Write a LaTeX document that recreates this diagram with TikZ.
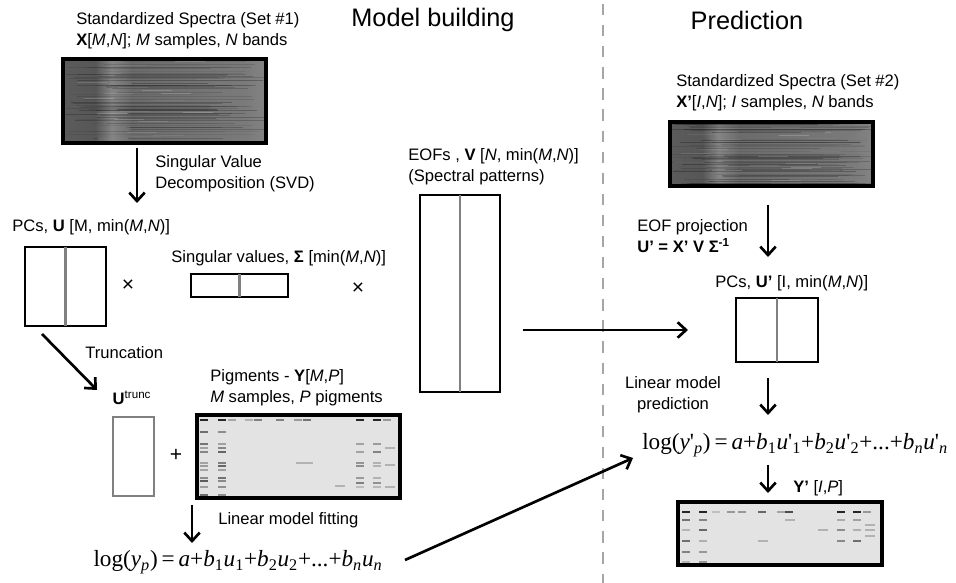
\documentclass[tikz,border=0pt]{standalone}
\usepackage{fontspec}
\setmainfont{Liberation Sans}
\newfontfamily\eqfont{Liberation Serif}
\usetikzlibrary{arrows.meta}
\pgfdeclarehorizontalshading{spectra}{100bp}{color(0bp)=(black!80); color(3bp)=(black!62); color(11bp)=(black!45); color(15bp)=(black!62); color(33bp)=(black!66); color(37bp)=(black!48); color(42bp)=(black!58); color(70bp)=(black!52); color(84bp)=(black!42); color(92bp)=(black!18); color(97bp)=(black!32); color(100bp)=(black!70)}

\begin{document}
\begin{tikzpicture}[x=0.025cm, y=-0.025cm,
            txt/.style={inner sep=0, align=left, font=\fontsize{11.8}{15}\selectfont},
            head/.style={inner sep=0, font=\fontsize{18}{22}\selectfont},
            eqn/.style={inner sep=0, font=\eqfont\fontsize{16.5}{20}\selectfont},
            op/.style={inner sep=0, font=\fontsize{15}{18}\selectfont},
            box/.style={draw, line width=1.9pt, inner sep=0},
            mid/.style={draw, gray, line width=1.5pt, shorten <=1pt, shorten >=1pt},
            arr/.style={line width=1.9pt, -{Straight Barb[length=6pt,width=11pt]}},
            tick/.style={line width=1.2pt}]
            \useasboundingbox (0,0) rectangle (956,583);

            \draw [gray!70, line width=1.4pt, dash pattern=on 8 off 7] (603,4) -- (603,583);
            \node [head] (build) at (433,20) {Model building};
            \node [head] (pred) at (747,20) {Prediction};

            \shade [shading=spectra] (63,59) rectangle (266,143);
            \shade [shading=spectra] (670,122) rectangle (873,186);
            \pgfmathsetseed{11}
            \foreach \i in {1,...,60} {
                \pgfmathsetmacro{\yy}{61+80*rnd}
                \pgfmathsetmacro{\xa}{63+70*rnd}
                \pgfmathsetmacro{\xb}{266-60*rnd}
                \pgfmathsetmacro{\op}{0.05+0.2*rnd}
                \draw [black, opacity=\op, line width=0.6pt] (\xa,\yy) -- (\xb,\yy);
            }
            \foreach \i in {1,...,20} {
                \pgfmathsetmacro{\yy}{61+80*rnd}
                \pgfmathsetmacro{\xa}{63+150*rnd}
                \pgfmathsetmacro{\op}{0.05+0.15*rnd}
                \draw [white, opacity=\op, line width=0.6pt] (\xa,\yy) -- ++(30,0);
            }
            \foreach \i in {1,...,60} {
                \pgfmathsetmacro{\yy}{124+60*rnd}
                \pgfmathsetmacro{\xa}{670+70*rnd}
                \pgfmathsetmacro{\xb}{873-60*rnd}
                \pgfmathsetmacro{\op}{0.05+0.2*rnd}
                \draw [black, opacity=\op, line width=0.6pt] (\xa,\yy) -- (\xb,\yy);
            }
            \foreach \i in {1,...,20} {
                \pgfmathsetmacro{\yy}{124+60*rnd}
                \pgfmathsetmacro{\xa}{670+150*rnd}
                \pgfmathsetmacro{\op}{0.05+0.15*rnd}
                \draw [white, opacity=\op, line width=0.6pt] (\xa,\yy) -- ++(30,0);
            }

            \fill [black!11] (197,415) rectangle (400,498);
            \fill [black!11] (678,502) rectangle (882,565);
            \foreach \x/\c in {200/85,218/85,228/35,245/30,254/50,276/50,294/40,303/55,356/85,373/85,383/40}
                \draw [tick, black!\c] (\x,420) -- ++(8,0);
            \foreach \x in {200,218} \foreach \y in {432,444,448,452,463,466,470,478,481,487,495} {
                \pgfmathsetmacro{\op}{0.2+0.4*rnd}
                \draw [tick, black, opacity=\op] (\x,\y) -- ++(8,0);
            }
            \foreach \x in {356,373} \foreach \y in {444,452,463,466,478,483,487} {
                \pgfmathsetmacro{\op}{0.15+0.3*rnd}
                \draw [tick, black, opacity=\op] (\x,\y) -- ++(8,0);
            }
            \foreach \x/\y in {385/448,385/465,385/487,296/463,303/463,335/486}
                \draw [tick, black!30] (\x,\y) -- ++(10,0);
            \foreach \x/\c in {682/85,699/85,712/25,727/40,738/40,758/60,777/35,785/70,837/85,853/85,863/40}
                \draw [tick, black!\c] (\x,512) -- ++(8,0);
            \foreach \x in {682,699} \foreach \y in {520,530,541,552,562} {
                \pgfmathsetmacro{\op}{0.2+0.4*rnd}
                \draw [tick, black, opacity=\op] (\x,\y) -- ++(8,0);
            }
            \foreach \x in {837,853} \foreach \y in {520,530,541} {
                \pgfmathsetmacro{\op}{0.2+0.35*rnd}
                \draw [tick, black, opacity=\op] (\x,\y) -- ++(8,0);
            }
            \foreach \x/\y in {865/525,865/530,865/536,785/520,818/530,758/541}
                \draw [tick, black!30] (\x,\y) -- ++(10,0);

            \node [box, line width=2.5pt, minimum width=5.075cm, minimum height=2.1cm] (spec1) at (164.5,101) {};
            \node [box, minimum width=2.025cm, minimum height=1.975cm] (U) at (65.5,286.5) {};
            \node [box, minimum width=2.425cm, minimum height=0.575cm] (S) at (239.5,285.5) {};
            \node [box, minimum width=2cm, minimum height=4.925cm] (V) at (460,293.5) {};
            \node [box, draw=gray, minimum width=1.025cm, minimum height=1.975cm] (Utr) at (133.5,456.5) {};
            \node [box, line width=2.5pt, minimum width=5.075cm, minimum height=2.075cm] (pig1) at (298.5,456.5) {};
            \node [box, line width=2.5pt, minimum width=5.075cm, minimum height=1.6cm] (spec2) at (771.5,154) {};
            \node [box, minimum width=2.05cm, minimum height=1.6cm] (U2) at (777,330) {};
            \node [box, line width=2.5pt, minimum width=5.1cm, minimum height=1.575cm] (pig2) at (780,533.5) {};
            \path [mid] (U.north) edge (U.south);
            \path [mid] (S.north) edge (S.south);
            \path [mid] (V.north) edge (V.south);
            \path [mid] (U2.north) edge (U2.south);

            \node [txt, anchor=west] (spec1lbl) at (76,30.5) {Standardized Spectra (Set \#1)\\\textbf{X}[\textit{M},\textit{N}]; \textit{M} samples, \textit{N} bands};
            \node [txt, anchor=west] (svd) at (155,174) {Singular Value\\Decomposition (SVD)};
            \node [txt, anchor=west] (Ulbl) at (12,227) {PCs, \textbf{U} [M, min(\textit{M},\textit{N})]};
            \node [op] (x1) at (128,286) {×};
            \node [txt, anchor=west] (Slbl) at (171,258) {Singular values, \textbf{Σ} [min(\textit{M},\textit{N})]};
            \node [op] (x2) at (358,289) {×};
            \node [txt, anchor=west] (Vlbl) at (408,167) {EOFs , \textbf{V} [\textit{N}, min(\textit{M},\textit{N})]\\(Spectral patterns)};
            \node [txt, anchor=west] (trunc) at (85,353) {Truncation};
            \node [txt] (Utrlbl) at (132,398) {\textbf{U}\textsuperscript{trunc}};
            \node [op] (plus) at (176,455) {+};
            \node [txt, anchor=west] (pig1lbl) at (210,388) {Pigments - \textbf{Y}[\textit{M},\textit{P}]\\\textit{M} samples, \textit{P} pigments};
            \node [txt, anchor=west] (fit) at (218,520) {Linear model fitting};
            \node [eqn] (eq1) at (238,562) {log(\textit{y}\textsubscript{\textit{p}})\,=\,\textit{a}+\textit{b}\textsubscript{1}\textit{u}\textsubscript{1}+\textit{b}\textsubscript{2}\textit{u}\textsubscript{2}+...+\textit{b}\textsubscript{\textit{n}}\textit{u}\textsubscript{\textit{n}}};
            \node [txt, anchor=west] (spec2lbl) at (676,92.5) {Standardized Spectra (Set \#2)\\\textbf{X'}[\textit{I},\textit{N}]; \textit{I} samples, \textit{N} bands};
            \node [txt, anchor=west] (proj) at (637,236) {EOF projection\\\textbf{U' = X' V Σ\textsuperscript{-1}}};
            \node [txt, anchor=west] (U2lbl) at (715,283) {PCs, \textbf{U'} [I, min(\textit{M},\textit{N})]};
            \node [txt, align=center] (pred) at (673,395) {Linear model\\prediction};
            \node [eqn, anchor=west] (eq2) at (642,445) {log(\textit{y}'\textsubscript{\textit{p}})\,=\,\textit{a}+\textit{b}\textsubscript{1}\textit{u}'\textsubscript{1}+\textit{b}\textsubscript{2}\textit{u}'\textsubscript{2}+...+\textit{b}\textsubscript{\textit{n}}\textit{u}'\textsubscript{\textit{n}}};
            \node [txt, anchor=west] (Ylbl) at (793,488) {\textbf{Y'} [\textit{I},\textit{P}]};

            \coordinate (a1) at (137,148);
            \coordinate (a2) at (137,203);
            \coordinate (b1) at (42,334);
            \coordinate (b2) at (97,390);
            \coordinate (c1) at (192,505);
            \coordinate (c2) at (192,543);
            \coordinate (d1) at (405,560);
            \coordinate (d2) at (633,458);
            \coordinate (e1) at (523,330);
            \coordinate (e2) at (688,330);
            \coordinate (f1) at (768,205);
            \coordinate (f2) at (768,257);
            \coordinate (g1) at (768,378);
            \coordinate (g2) at (768,415);
            \coordinate (h1) at (768,465);
            \coordinate (h2) at (768,493);
            \draw [arr] (a1) -- (a2);
            \draw [arr] (b1) -- (b2);
            \draw [arr] (c1) -- (c2);
            \draw [arr] (d1) -- (d2);
            \draw [arr] (e1) -- (e2);
            \draw [arr] (f1) -- (f2);
            \draw [arr] (g1) -- (g2);
            \draw [arr] (h1) -- (h2);
\end{tikzpicture}
\end{document}
